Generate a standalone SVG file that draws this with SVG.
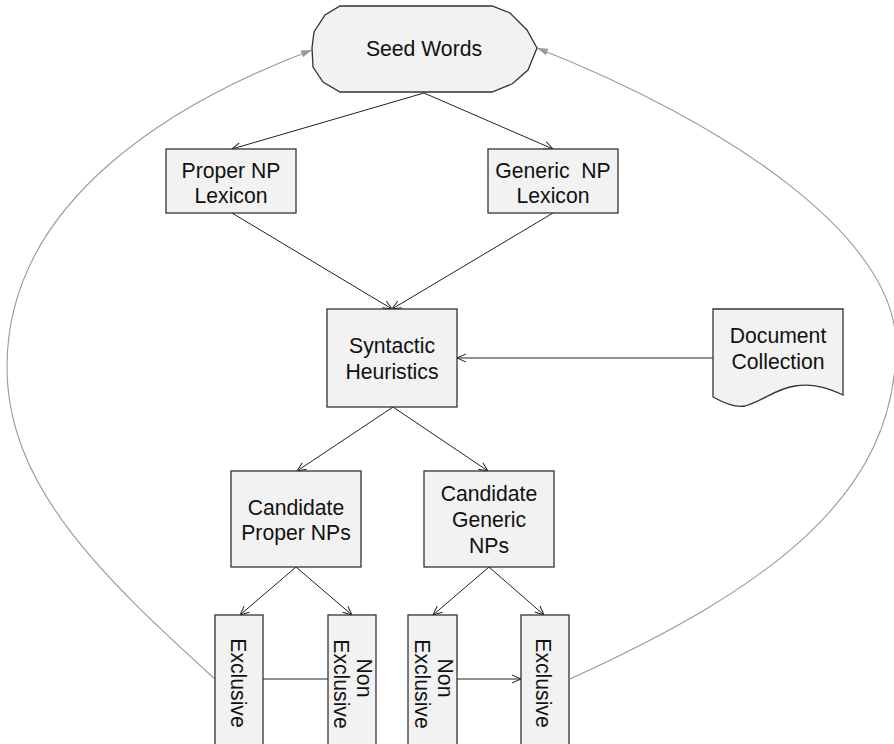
<svg xmlns="http://www.w3.org/2000/svg" width="894" height="744" viewBox="0 0 894 744">
<style>
.box{fill:#f2f2f2;stroke:#333;stroke-width:1.3}
.t{font-family:"Liberation Sans",Arial,sans-serif;font-size:21.2px;fill:#111;text-anchor:middle}
.ln{fill:none;stroke:#222;stroke-width:1}
.fb{fill:none;stroke:#999;stroke-width:1.1}
</style>
<defs>
<marker id="open" markerWidth="12" markerHeight="12" refX="9" refY="5" orient="auto" markerUnits="userSpaceOnUse" viewBox="0 0 12 10">
<path d="M0,1 L9,5 L0,9" fill="none" stroke="#222" stroke-width="1"/>
</marker>
<marker id="gray" markerWidth="12" markerHeight="10" refX="11" refY="4" orient="auto" markerUnits="userSpaceOnUse" viewBox="0 0 12 8">
<path d="M0,0.5 L11,4 L0,7.5 Z" fill="#999"/>
</marker>
</defs>
<rect width="894" height="744" fill="#fff"/>
<g id="connectors">
<path class="fb" d="M215,679 C104,578 7,487 7,367 C7,197 181,99.4 312,50" marker-end="url(#gray)"/>
<path class="fb" d="M570,679 C770,588 896,495 896,345 C896,235 723,121 537,48" marker-end="url(#gray)"/>
<line class="ln" x1="424" y1="93" x2="232" y2="149" marker-end="url(#open)"/>
<line class="ln" x1="424" y1="93" x2="553" y2="149" marker-end="url(#open)"/>
<line class="ln" x1="232" y1="213" x2="392" y2="309" marker-end="url(#open)"/>
<line class="ln" x1="553" y1="213" x2="392" y2="309" marker-end="url(#open)"/>
<line class="ln" x1="713" y1="358" x2="457" y2="358" marker-end="url(#open)"/>
<line class="ln" x1="393" y1="407" x2="297" y2="471" marker-end="url(#open)"/>
<line class="ln" x1="393" y1="407" x2="488" y2="471" marker-end="url(#open)"/>
<line class="ln" x1="296" y1="567" x2="240" y2="615" marker-end="url(#open)"/>
<line class="ln" x1="296" y1="567" x2="352" y2="615" marker-end="url(#open)"/>
<line class="ln" x1="489" y1="567" x2="433" y2="615" marker-end="url(#open)"/>
<line class="ln" x1="489" y1="567" x2="544" y2="615" marker-end="url(#open)"/>
<line class="ln" x1="263" y1="679" x2="328" y2="679"/>
<line class="ln" x1="457" y1="679" x2="521" y2="679" marker-end="url(#open)"/>
</g>
<g id="seed">
<path class="box" d="M340,6 L492,6 L510,13 L527,30 L537,48 L528,70 L512,84 L492,92 L340,92 L323,82 L313,67 L312,48 L314,32 L325,15 Z"/>
<text class="t" x="424" y="56">Seed Words</text>
</g>
<g id="proper-lex">
<rect class="box" x="166" y="149" width="130" height="64"/>
<text class="t" x="231" y="178">Proper NP</text>
<text class="t" x="231" y="203">Lexicon</text>
</g>
<g id="generic-lex">
<rect class="box" x="488" y="149" width="130" height="64"/>
<text class="t" x="553" y="178" xml:space="preserve">Generic  NP</text>
<text class="t" x="553" y="203">Lexicon</text>
</g>
<g id="syntactic">
<rect class="box" x="327" y="309" width="130" height="98"/>
<text class="t" x="392" y="353">Syntactic</text>
<text class="t" x="392" y="379">Heuristics</text>
</g>
<g id="document">
<path class="box" d="M713,309 L843,309 L843,395 C830,389 815,383 795,386 C775,389 765,400 745,406 C735,408 722,402 713,397 Z"/>
<text class="t" x="778" y="343">Document</text>
<text class="t" x="778" y="369">Collection</text>
</g>
<g id="cand-proper">
<rect class="box" x="231" y="471" width="130" height="96"/>
<text class="t" x="296" y="515">Candidate</text>
<text class="t" x="296" y="540">Proper NPs</text>
</g>
<g id="cand-generic">
<rect class="box" x="424" y="471" width="130" height="96"/>
<text class="t" x="489" y="501">Candidate</text>
<text class="t" x="489" y="527">Generic</text>
<text class="t" x="489" y="553">NPs</text>
</g>
<g id="excl1">
<rect class="box" x="215" y="615" width="48" height="130"/>
<text class="t" transform="translate(230.5,683) rotate(90)">Exclusive</text>
</g>
<g id="nonexcl1">
<rect class="box" x="328" y="615" width="48" height="130"/>
<text class="t" transform="translate(357,678) rotate(90)">Non</text>
<text class="t" transform="translate(334,684) rotate(90)">Exclusive</text>
</g>
<g id="nonexcl2">
<rect class="box" x="408" y="615" width="49" height="130"/>
<text class="t" transform="translate(438,678) rotate(90)">Non</text>
<text class="t" transform="translate(415,684) rotate(90)">Exclusive</text>
</g>
<g id="excl2">
<rect class="box" x="521" y="615" width="48" height="130"/>
<text class="t" transform="translate(536,683) rotate(90)">Exclusive</text>
</g>
</svg>
